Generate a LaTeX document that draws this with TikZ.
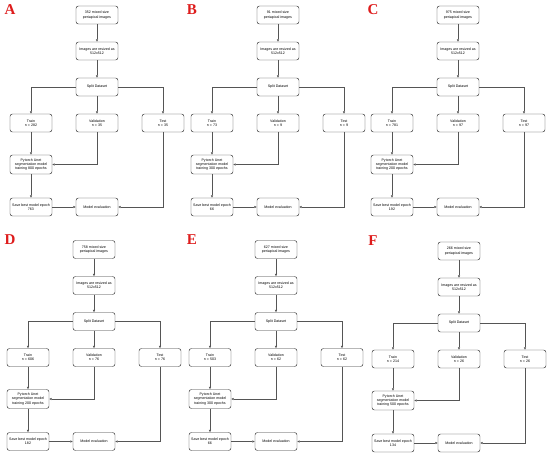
\documentclass[tikz,border=0pt]{standalone}
\usepackage{fontspec}
\setmainfont{Liberation Sans}
\newfontfamily\labfont{Liberation Serif}
\usetikzlibrary{arrows.meta}
\definecolor{labred}{RGB}{222,28,28}
\definecolor{linegray}{RGB}{85,85,85}
\tikzset{
  box/.style={draw=black!80, line width=0.45pt, rounded corners=2.5pt, fill=white,
    minimum width=42pt, minimum height=18pt, inner sep=0.5pt, align=center,
    font=\fontsize{3.6}{4.3}\selectfont},
  arr/.style={draw=linegray, line width=0.45pt, -{Triangle[length=2.4pt,width=2pt]}},
  panlabel/.style={font=\labfont\bfseries\fontsize{15}{15}\selectfont, text=labred, inner sep=0pt}
}
\newcommand\flowpanel[7]{%
  \node[box] (#1top) at (97,15) {#2 mixed size\\periapical images};
  \node[box] (#1res) at (97,51) {Images are resized as\\512x512};
  \node[box] (#1split) at (97,87) {Split Dataset};
  \node[box] (#1train) at (31,123) {Train\\n = #3};
  \node[box] (#1val) at (97,123) {Validation\\n = #4};
  \node[box] (#1test) at (163,123) {Test\\n = #5};
  \node[box, minimum height=19pt] (#1py) at (31,164.5) {Pytorch Unet\\segmentation model\\training #6 epochs};
  \node[box] (#1save) at (31,207) {Save best model epoch\\#7};
  \node[box] (#1eval) at (97,207) {Model evaluation};
  \draw[arr] (#1top) -- (#1res);
  \draw[arr] (#1res) -- (#1split);
  \draw[arr] (#1split.west) -| (#1train.north);
  \draw[arr] (#1split) -- (#1val);
  \draw[arr] (#1split.east) -| (#1test.north);
  \draw[arr] (#1train) -- (#1py);
  \draw[arr] (#1val.south) |- (#1py.east);
  \draw[arr] (#1py) -- (#1save);
  \draw[arr] (#1save) -- (#1eval);
  \draw[arr] (#1test.south) |- (#1eval.east);
}
\begin{document}
\begin{tikzpicture}[x=1pt,y=-1pt]
\useasboundingbox[fill=white] (0,0) rectangle (550,456);
\node[panlabel] (labA) at (10,10) {A};
\node[panlabel] (labB) at (192,10) {B};
\node[panlabel] (labC) at (373,10) {C};
\node[panlabel] (labD) at (10,240) {D};
\node[panlabel] (labE) at (192,240) {E};
\node[panlabel] (labF) at (373,241) {F};
\begin{scope}
  \flowpanel{A}{352}{282}{35}{35}{800}{763}
\end{scope}
\begin{scope}[shift={(181,0)}]
  \flowpanel{B}{91}{73}{9}{9}{300}{66}
\end{scope}
\begin{scope}[shift={(361,0)}]
  \flowpanel{C}{975}{781}{97}{97}{200}{192}
\end{scope}
\begin{scope}[shift={(-3,234.5)}]
  \flowpanel{D}{758}{606}{76}{76}{200}{182}
\end{scope}
\begin{scope}[shift={(179,234.5)}]
  \flowpanel{E}{627}{503}{62}{62}{300}{66}
\end{scope}
\begin{scope}[shift={(362,236)}]
  \flowpanel{F}{266}{214}{26}{26}{500}{134}
\end{scope}
\end{tikzpicture}
\end{document}
